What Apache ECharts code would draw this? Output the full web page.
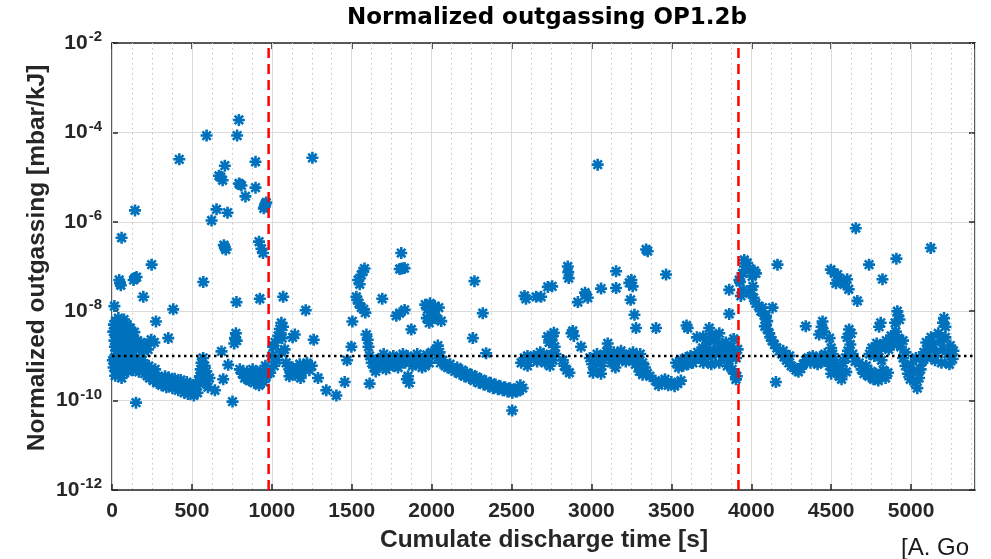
<!DOCTYPE html>
<html><head><meta charset="utf-8">
<script src="https://cdn.jsdelivr.net/npm/echarts@6/dist/echarts.min.js"></script>
<style>html,body{margin:0;padding:0;background:#fff}#c{width:991px;height:559px}</style>
</head><body><div id="c"></div>
<script>
const titleText = 'Normalized outgassing OP1.2b';
const xAxisName = 'Cumulate discharge time [s]';
const yAxisName = 'Normalized outgassing [mbar/kJ]';
const creditText = '[A. Go';
const xMin = 0, xMax = 5400, xMajorStep = 500, xMinorStep = 125;
const yMin = 1e-12, yMax = 1e-2;
const phaseBoundaries = [980, 3920];
const referenceLevel = 1e-9;

// [cumulate discharge time (s), normalized outgassing (mbar/kJ)]
const segmentEarly = [
[8,3.5e-9],[12,5e-9],[15,2.2e-9],[18,1.6e-9],[22,6e-9],[25,3e-9],[28,1.3e-9],[32,4e-9],[36,2.5e-9],[40,7e-9],[45,1.8e-9],[48,3.2e-9],[52,5.5e-9],[55,2e-9],[60,1.4e-9],[65,4.5e-9],[70,2.8e-9],[75,6.5e-9],[80,1.7e-9],[85,3.8e-9],[90,2.3e-9],[95,5e-9],[100,1.5e-9],[105,3e-9],[110,2e-9],[115,4.2e-9],[120,1.3e-9],[125,2.6e-9],[130,1.8e-9],[140,3.4e-9],[150,1.5e-9],[160,2.2e-9],[170,1.4e-9],[180,2e-9],[190,1.6e-9],[200,1.3e-9],[210,1.8e-9],[225,1.4e-9],[245,2.3e-9],[265,2e-9],[275,5.9e-9],[352,2.5e-9],
[5,8e-10],[10,5.5e-10],[15,9e-10],[20,6.5e-10],[25,4.5e-10],[30,7.5e-10],[35,5e-10],[40,8.5e-10],[45,6e-10],[50,4e-10],[55,7e-10],[60,5e-10],[65,9e-10],[70,6e-10],[75,4.2e-10],[80,7e-10],[85,5.2e-10],[90,8e-10],[95,6.2e-10],[100,4.5e-10],[105,7.5e-10],[110,5.5e-10],[118,8.5e-10],[125,6.5e-10],[130,4.8e-10],[138,6e-10],[145,7.5e-10],[152,5e-10],[160,6.5e-10],[168,4.4e-10],[175,5.5e-10],[182,7e-10],[190,4.6e-10],[198,5.8e-10],[205,4e-10],[212,5e-10],[220,3.6e-10],[228,4.5e-10],[235,3.2e-10],[242,4e-10],[250,3.5e-10],[258,2.8e-10],[265,3.8e-10],[272,3e-10],[280,2.5e-10],[288,3.4e-10],[295,2.6e-10],[302,3.2e-10],[310,2.2e-10],[318,2.9e-10],[325,2.4e-10],[332,3.5e-10],[340,2e-10],[348,2.7e-10],[355,3.3e-10],[362,2.2e-10],[370,2.8e-10],[378,1.9e-10],[385,2.5e-10],[392,3.1e-10],[400,2.1e-10],[408,2.6e-10],[415,1.7e-10],[422,2.3e-10],[430,2.9e-10],[438,1.8e-10],[445,2.4e-10],[452,1.5e-10],[460,2e-10],[468,2.6e-10],[475,1.4e-10],[482,1.9e-10],[490,2.3e-10],[498,1.6e-10],[505,2.1e-10],[512,1.3e-10],[520,1.8e-10],[528,2.4e-10],[535,1.5e-10],[542,2.8e-10],[550,3.5e-10],[555,5e-10],[560,7e-10],[565,4e-10],[570,9e-10],[575,2.5e-10],[580,6e-10],[585,3e-10],[590,4.5e-10],[600,2e-10],[610,3.2e-10],
[30,1.1e-9],[70,1e-9],[110,1.1e-9],[150,9e-10],[190,8e-10],[230,6e-10],[270,5e-10],[60,3.2e-10],[20,3.6e-10],
[15,1.3e-8],[45,5e-8],[50,4.3e-8],[55,3.8e-8],[135,5e-8],[144,5.5e-8],[154,5.8e-8],[196,2.1e-8],[248,1.1e-7],[60,4.4e-7],[144,1.8e-6],[383,1.1e-8],[421,2.5e-5],[571,4.5e-8],[592,8.5e-5],[623,1.07e-6],[654,1.9e-6],[723,1.6e-6],[669,1.07e-5],[681,1e-5],[692,8.5e-6],[706,1.8e-5],[700,3e-7],[706,2.7e-7],[712,2.4e-7],[783,8.5e-5],[794,1.9e-4],[795,7.2e-6],[800,6.9e-6],[810,6.5e-6],[835,3.7e-6],[898,2.2e-5],[898,5.8e-6],[950,2e-6],[955,2.2e-6],[960,2.5e-6],[965,2.7e-6],[920,3.6e-7],[935,2.5e-7],[945,2e-7],[779,1.6e-8],[925,1.9e-8],[765,1.9e-9],[770,2.5e-9],[775,3.2e-9],[780,2.2e-9],[685,1.26e-9],[727,6.3e-10],[696,3e-10],[644,1.7e-10],[754,9.5e-11],[150,9e-11],
[800,5e-10],[815,4e-10],[830,3.2e-10],[845,4.5e-10],[850,3e-10],[860,2.8e-10],[875,3.8e-10],[880,5e-10],[890,2.5e-10],[905,3.5e-10],[910,4.4e-10],[920,2.2e-10],[935,3e-10],[945,4.5e-10],[950,2.6e-10],[960,6e-10],[965,3.4e-10]
];
const segmentMid = [
[990,4.2e-10],[1000,1e-9],[1008,1.6e-9],[1015,6e-10],[1020,2e-9],[1030,8e-10],[1040,2.8e-9],[1050,4e-9],[1055,3.2e-9],[1060,5.5e-9],[1060,1.2e-9],[1065,2.5e-9],[1070,4.5e-9],[1080,1.4e-9],[1090,7e-10],[1130,2.6e-9],[1144,3e-9],[1071,2.1e-8],[1212,1.05e-8],[1262,2.3e-9],[1254,2.7e-5],
[1100,6e-10],[1110,3.5e-10],[1115,4.5e-10],[1130,5.5e-10],[1145,3.8e-10],[1160,5e-10],[1175,6.5e-10],[1180,3.2e-10],[1190,4.2e-10],[1205,5.8e-10],[1220,7e-10],[1235,4.8e-10],[1250,6e-10],
[1289,3.2e-10],[1341,1.7e-10],[1404,1.3e-10],[1456,2.6e-10],[1471,8e-10],[1498,1.6e-9],[1504,5.9e-9],
[1571,7.8e-8],[1560,6.5e-8],[1580,9e-8],[1540,5e-8],[1550,4e-8],[1529,2.1e-8],[1535,1.8e-8],[1545,1.5e-8],[1560,1.2e-8],[1585,9.3e-9],[1575,1.1e-8],[1592,3e-9],[1600,2.3e-9],[1605,1.6e-9],
[1612,1e-9],[1625,7e-10],[1640,5.5e-10],[1650,4.5e-10],[1655,8e-10],[1670,6e-10],[1685,9e-10],[1700,7e-10],[1700,1.1e-9],[1715,5e-10],[1730,8.5e-10],[1745,6.5e-10],[1760,1e-9],[1760,6e-10],[1775,7.5e-10],[1790,5.5e-10],[1805,9e-10],[1820,1.1e-9],[1835,7e-10],[1850,1e-9],[1865,8e-10],[1880,6e-10],[1895,9.5e-10],[1900,6.5e-10],[1910,1.1e-9],[1925,7.5e-10],[1940,5.5e-10],[1955,9e-10],[1960,6e-10],[1970,1.05e-9],[1985,7e-10],[2000,1.2e-9],
[1612,2.4e-10],[1691,1.9e-8],[1810,2e-7],[1800,8.8e-8],[1815,9e-8],[1830,9.2e-8],[1779,7.9e-9],[1800,9e-9],[1831,1.07e-8],[1873,3.9e-9],[1845,3e-10],[1852,3.5e-10],[1860,2.5e-10],
[1960,1.4e-8],[1975,1.1e-8],[1990,1.5e-8],[2005,9e-9],[2020,1.3e-8],[1970,7e-9],[1985,5.5e-9],[2000,6.5e-9],[2015,8e-9],[2030,7e-9],[2045,1.2e-8],[2060,6e-9],[2030,1.4e-9],[2039,1.7e-9],[2050,1.2e-9],
[2040,9e-10],[2055,7e-10],[2070,8e-10],[2085,6e-10],[2100,5.5e-10],[2115,6.5e-10],[2130,5e-10],[2145,4.5e-10],[2160,5.5e-10],[2175,4e-10],[2190,4.8e-10],[2205,3.5e-10],[2220,4.2e-10],[2235,3.2e-10],[2250,3.8e-10],[2265,2.8e-10],[2280,3.4e-10],[2295,2.5e-10],[2310,3e-10],[2325,2.3e-10],[2340,2.7e-10],[2355,2.1e-10],[2370,2.5e-10],[2385,1.9e-10],[2400,2.3e-10],[2415,1.8e-10],[2430,2.1e-10],[2445,1.7e-10],[2460,2e-10],[2475,1.6e-10],[2490,1.9e-10],[2505,1.5e-10],[2520,1.8e-10],[2535,1.6e-10],[2550,1.7e-10],
[2268,4.7e-8],[2320,9e-9],[2258,2.5e-9],[2341,1.15e-9],[2504,6e-11],[2555,2.2e-10],[2570,1.9e-10],[2581,2.2e-8],[2590,1.9e-8],[2654,2.1e-8],[2727,3.5e-8],
[2560,7e-10],[2580,9e-10],[2600,6e-10],[2600,1e-9],[2620,8.5e-10],[2640,1e-9],[2660,7.5e-10],[2680,9.5e-10],[2700,1.1e-9],[2720,8e-10],[2740,1e-9],[2727,2.7e-9],[2735,2e-9],
[2685,2.1e-8],[2754,3.6e-8],[2852,1e-7],[2855,7.5e-8],[2858,5.5e-8],[2915,1.6e-8],[2960,2.6e-8],[2966,2.3e-8],[2977,2e-8],[3039,1.9e-5],[3060,3.2e-8],[3154,7.8e-8],[3154,3.3e-8],[3237,4.3e-8],[3245,1.8e-8],[3250,5e-8],[3258,3.6e-8],[3269,8.3e-9],[3279,4.2e-9],[3342,2.4e-7],[3352,2.2e-7],[3404,4.2e-9],[3467,6.6e-8],[3595,4.8e-9],[3602,4.2e-9],[3737,4.2e-9],[3862,8.7e-9],[3862,3e-8],
[2680,1.2e-9],[2695,9e-10],[2710,7e-10],[2725,1e-9],[2740,6e-10],[2760,8e-10],[2775,1.1e-9],[2750,2.2e-9],[2758,2.8e-9],[2765,3.3e-9],[2770,1.6e-9],[2875,3.2e-9],[2883,3.6e-9],[2890,2.8e-9],[2821,8e-10],[2830,6e-10],[2845,4.8e-10],[2862,4.2e-10],[2935,1.6e-9],[3102,1.9e-9],
[2990,9e-10],[3005,6.5e-10],[3010,4.2e-10],[3020,5e-10],[3035,1.1e-9],[3050,8e-10],[3060,4e-10],[3065,6e-10],[3080,1e-9],[3095,1.25e-9],[3110,9e-10],[3125,7e-10],[3140,1.2e-9],[3150,5.5e-10],[3155,1e-9],[3170,8e-10],[3185,1.3e-9],[3200,1.1e-9],[3215,7.5e-10],[3230,1e-9],[3245,8.5e-10],[3260,1.2e-9],[3275,6.5e-10],[3290,9e-10],[3300,4.5e-10],[3305,1.1e-9],[3320,7e-10],[3320,3.8e-10],[3335,5.5e-10],[3350,4e-10],[3365,3.5e-10],
[3400,2.8e-10],[3420,2.2e-10],[3440,2.5e-10],[3460,3e-10],[3480,2.2e-10],[3500,2.6e-10],[3520,2.1e-10],[3540,2.4e-10],[3560,2.8e-10],
[3530,7e-10],[3545,5.5e-10],[3560,8e-10],[3575,6e-10],[3590,9e-10],[3605,6.5e-10],[3620,1e-9],[3635,7e-10],[3650,8.5e-10],[3660,2.6e-9],[3665,1.2e-9],[3680,9e-10],[3695,1.5e-9],[3700,7e-10],[3700,2.7e-9],[3710,1.1e-9],[3725,1.9e-9],[3740,1.3e-9],[3750,6.5e-10],[3755,1e-9],[3755,3e-9],[3770,2.2e-9],[3772,2.5e-9],[3785,1.4e-9],[3800,1.1e-9],[3800,7e-10],[3800,3.2e-9],[3815,1.8e-9],[3830,1e-9],[3840,2e-9],[3845,1.3e-9],[3850,6e-10],[3860,8e-10],[3875,1.6e-9],[3880,5e-10],[3890,1.2e-9],[3890,2.4e-9],[3895,4e-10],[3904,3e-10],[3905,9e-10],[3910,3.5e-10],[3915,1.4e-9]
];
const segmentLate = [
[3925,5e-8],[3930,4.5e-8],[3935,2.2e-8],[3945,7e-8],[3950,3e-8],[3956,1.4e-7],[3960,1e-7],[3975,1.2e-7],[3990,9e-8],[3990,2.5e-8],[4000,3e-8],[4005,6e-8],[4010,3.6e-8],[4015,2e-8],[4020,8e-8],[4029,7e-8],[4029,1.5e-8],[4045,1.3e-8],[4060,1e-8],[4070,1.2e-8],[4080,8e-9],[4085,4.6e-9],[4092,7.9e-9],[4100,6e-9],[4100,4e-9],[4112,3.2e-9],[4120,2.6e-9],[4133,1.2e-8],[4164,1.1e-7],[4154,2.6e-10],
[4130,2.2e-9],[4145,1.8e-9],[4160,1.5e-9],[4175,1.3e-9],[4190,1.1e-9],[4200,1.3e-9],[4205,9.5e-10],[4220,8e-10],[4235,7e-10],[4240,1e-9],[4250,6e-10],[4265,5.5e-10],[4280,4.8e-10],[4295,4.4e-10],[4310,5.2e-10],[4325,6.5e-10],[4340,8e-10],[4341,4.6e-9],
[4355,9e-10],[4370,7e-10],[4385,1e-9],[4400,8e-10],[4415,6.5e-10],[4430,9.5e-10],[4445,7.5e-10],[4460,1.1e-9],[4475,8.5e-10],[4490,6e-10],[4425,3e-9],[4440,4.5e-9],[4446,5.9e-9],[4455,3.5e-9],
[4498,8.5e-8],[4520,7e-8],[4530,4.2e-8],[4540,6.6e-8],[4560,5e-8],[4580,4e-8],[4600,5.2e-8],[4610,3.1e-8],[4664,1.7e-8],[4737,1.1e-7],[4821,5.2e-8],[4908,1.5e-7],[5123,2.6e-7],[4654,7.2e-7],
[4490,2.5e-9],[4500,1.5e-9],[4500,4e-10],[4510,1.1e-9],[4510,6e-10],[4520,8e-10],[4530,6e-10],[4540,4.5e-10],[4550,3.5e-10],[4560,5e-10],[4565,3e-10],[4575,7e-10],[4590,9e-10],[4595,4.4e-10],[4605,1.3e-9],[4620,1.8e-9],[4635,1.1e-9],[4650,7.5e-10],[4600,2.6e-9],[4612,3.9e-9],[4625,3.2e-9],
[4675,7e-10],[4690,5e-10],[4705,4e-10],[4720,6e-10],[4735,3.5e-10],[4750,4.5e-10],[4765,3e-10],[4780,4e-10],[4795,2.8e-10],[4810,3.6e-10],[4825,4.8e-10],[4840,3.2e-10],[4855,4.2e-10],
[4740,1.1e-9],[4755,1.5e-9],[4770,1e-9],[4785,1.9e-9],[4800,1.3e-9],[4815,8e-10],[4830,1.7e-9],[4845,2.2e-9],[4860,1.4e-9],[4875,2.8e-9],[4890,1.8e-9],[4905,3.5e-9],[4920,2.5e-9],[4935,1.6e-9],[4950,2.2e-9],[4965,1.2e-9],[4900,5.5e-9],[4914,1e-8],[4920,8e-9],[4928,6.5e-9],[4800,4.5e-9],[4810,5.5e-9],
[4950,9e-10],[4965,6e-10],[4980,4e-10],[4995,3e-10],[5000,6.5e-10],[5010,4.5e-10],[5025,2.5e-10],[5030,9e-10],[5039,1.9e-10],[5050,3.2e-10],[5060,5e-10],[5070,7.5e-10],
[5080,1.2e-9],[5095,2e-9],[5100,9e-10],[5110,1.5e-9],[5125,2.6e-9],[5140,1.8e-9],[5150,8e-10],[5155,1.2e-9],[5170,3.2e-9],[5185,2.2e-9],[5190,7e-10],[5200,1.4e-9],[5200,5.5e-9],[5206,7e-9],[5215,2.6e-9],[5215,4.5e-9],[5230,1.1e-9],[5240,6.5e-10],[5245,1.7e-9],[5260,8.5e-10],[5265,1.3e-9]
];

const outgassing = segmentEarly.concat(segmentMid, segmentLate);

const BLUE = '#0072BD';
const AX = '#262626';
const tickFont = 'Liberation Sans, Arial, sans-serif';
const asterisk = 'path://M10,0L10,20M0,10L20,10M2.93,2.93L17.07,17.07M2.93,17.07L17.07,2.93';

const chart = echarts.init(document.getElementById('c'), null, {renderer: 'canvas'});

const series = [{
  type: 'scatter',
  data: outgassing,
  xAxisIndex: 0, yAxisIndex: 0,
  symbol: asterisk,
  symbolSize: 12,
  itemStyle: {color: BLUE, borderColor: BLUE, borderWidth: 2.6, opacity: 1},
  z: 3,
  silent: true,
  animation: false
}, {
  type: 'line',
  data: [[xMin, referenceLevel], [xMax, referenceLevel]],
  xAxisIndex: 0, yAxisIndex: 0,
  symbol: 'none',
  lineStyle: {color: '#000', width: 2.5, type: [2.5, 3.5]},
  z: 4, silent: true, animation: false
}];
phaseBoundaries.forEach(function (b) {
  series.push({
    type: 'line',
    data: [[b, yMin], [b, yMax]],
    xAxisIndex: 0, yAxisIndex: 0,
    symbol: 'none',
    lineStyle: {color: '#FF0000', width: 2.5, type: [10, 6]},
    z: 5, silent: true, animation: false
  });
});

function yLabel(v) {
  const e = Math.round(Math.log10(v));
  return '{b|10}{s|' + e + '}';
}

const option = {
  animation: false,
  backgroundColor: '#fff',
  grid: {left: 112, right: 16, top: 43, bottom: 69, containLabel: false},
  xAxis: [{
    type: 'value', min: xMin, max: xMax, interval: xMajorStep, position: 'bottom',
    axisLine: {show: true, onZero: false, lineStyle: {color: AX, width: 1.5}},
    axisTick: {show: true, inside: true, length: 6, lineStyle: {color: AX, width: 1.5}},
    axisLabel: {show: true, showMaxLabel: false, margin: 11, color: AX, fontSize: 21, fontWeight: 'bold', fontFamily: tickFont,
      formatter: function (v) { return String(v); }},
    splitLine: {show: true, lineStyle: {color: '#dcdcdc', width: 1}},
    z: 2
  }, {
    type: 'value', min: xMin, max: xMax, interval: xMinorStep, position: 'bottom',
    axisLine: {show: false}, axisTick: {show: false}, axisLabel: {show: false},
    splitLine: {show: true, lineStyle: {color: '#c4c4c4', width: 1, type: [1.5, 3.5]}},
    z: 1
  }, {
    type: 'value', min: xMin, max: xMax, interval: xMajorStep, position: 'top',
    axisLine: {show: true, onZero: false, lineStyle: {color: AX, width: 1.5}},
    axisTick: {show: true, inside: true, length: 6, lineStyle: {color: AX, width: 1.5}},
    axisLabel: {show: false}, splitLine: {show: false}
  }],
  yAxis: [{
    type: 'log', logBase: 100, min: yMin, max: yMax, position: 'left',
    axisLine: {show: true, onZero: false, lineStyle: {color: AX, width: 1.5}},
    axisTick: {show: true, inside: true, length: 6, lineStyle: {color: AX, width: 1.5}},
    axisLabel: {
      show: true, margin: 10, formatter: yLabel,
      rich: {
        b: {fontSize: 21, fontWeight: 'bold', fontFamily: tickFont, color: AX, lineHeight: 21, verticalAlign: 'bottom'},
        s: {fontSize: 15, fontWeight: 'bold', fontFamily: tickFont, color: AX, lineHeight: 15, verticalAlign: 'bottom', padding: [0, 0, 9, 1]}
      }
    },
    splitLine: {show: true, lineStyle: {color: '#dcdcdc', width: 1}},
    minorSplitLine: {show: false}
  }, {
    type: 'log', logBase: 100, min: yMin, max: yMax, position: 'right',
    axisLine: {show: true, onZero: false, lineStyle: {color: AX, width: 1.5}},
    axisTick: {show: true, inside: true, length: 6, lineStyle: {color: AX, width: 1.5}},
    axisLabel: {show: false}, splitLine: {show: false}
  }],
  graphic: [{
    type: 'text', x: 547, y: 18,
    style: {text: titleText, fill: '#000', font: 'bold 23px "DejaVu Sans", sans-serif', textAlign: 'center', textVerticalAlign: 'middle'}
  }, {
    type: 'text', x: 544, y: 540,
    style: {text: xAxisName, fill: AX, font: 'bold 24.5px "Liberation Sans", Arial, sans-serif', textAlign: 'center', textVerticalAlign: 'middle'}
  }, {
    type: 'text', x: 37, y: 258, rotation: Math.PI / 2,
    style: {text: yAxisName, fill: AX, font: 'bold 24.5px "Liberation Sans", Arial, sans-serif', textAlign: 'center', textVerticalAlign: 'middle'}
  }, {
    type: 'text', x: 901, y: 548,
    style: {text: creditText, fill: '#1a1a1a', font: '24px "Liberation Sans", Arial, sans-serif', textAlign: 'left', textVerticalAlign: 'middle'}
  }],
  series: series
};
chart.setOption(option);
</script>
</body></html>
